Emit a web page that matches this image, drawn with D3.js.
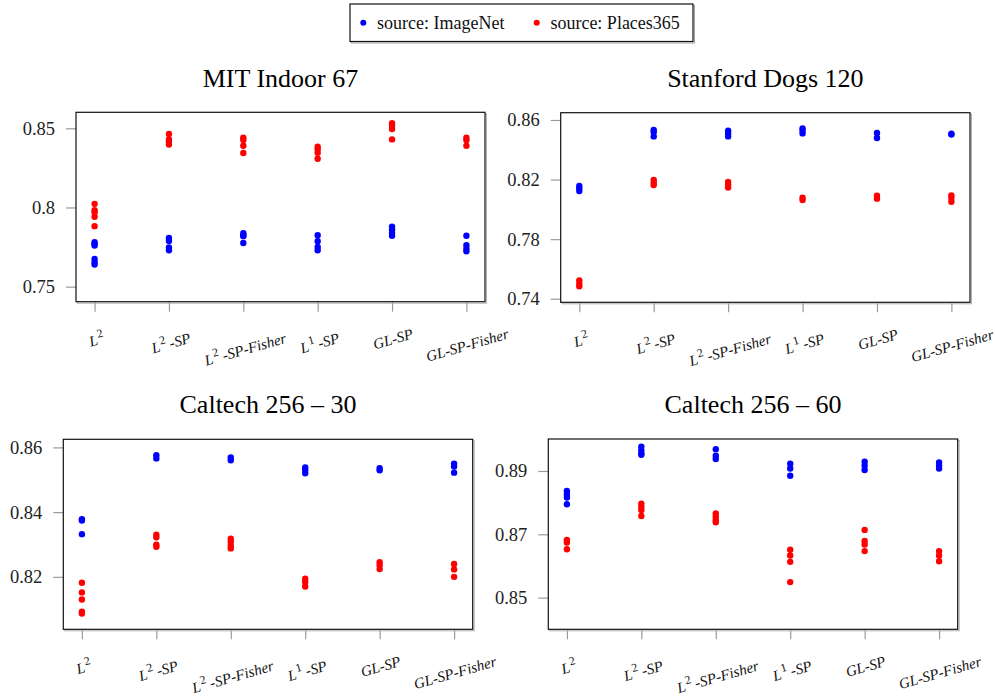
<!DOCTYPE html>
<html>
<head>
<meta charset="utf-8">
<script src="https://cdn.jsdelivr.net/npm/d3@7/dist/d3.min.js"></script>
<style>
  html, body { margin: 0; padding: 0; background: #fff; }
  svg { display: block; }
  svg text { font-family: "Liberation Serif", "Times New Roman", Times, "DejaVu Serif", serif; }
</style>
</head>
<body>
<svg id="chart" width="995" height="700"></svg>
<script>
// ---------------- data ----------------
const categories = ["L^2", "L^2-SP", "L^2-SP-Fisher", "L^1-SP", "GL-SP", "GL-SP-Fisher"];
const seriesNames = ["source: ImageNet", "source: Places365"];

const titles = ["MIT Indoor 67", "Stanford Dogs 120", "Caltech 256 – 30", "Caltech 256 – 60"];

const mitTicks = [0.75, 0.8, 0.85];
const dogsTicks = [0.74, 0.78, 0.82, 0.86];
const cal30Ticks = [0.82, 0.84, 0.86];
const cal60Ticks = [0.85, 0.87, 0.89];

const mitImageNet = [
  [0.7780, 0.7770, 0.7760, 0.7675, 0.7655, 0.7640],
  [0.7808, 0.7789, 0.7747, 0.7730],
  [0.7837, 0.7825, 0.7819, 0.7776],
  [0.7825, 0.7787, 0.7751, 0.7730],
  [0.7878, 0.7861, 0.7840, 0.7821],
  [0.7821, 0.7762, 0.7740, 0.7724]
];
const mitPlaces = [
  [0.8023, 0.7983, 0.7970, 0.7941, 0.7882],
  [0.8464, 0.8430, 0.8414, 0.8397],
  [0.8441, 0.8426, 0.8390, 0.8344],
  [0.8384, 0.8367, 0.8346, 0.8308],
  [0.8532, 0.8517, 0.8496, 0.8430],
  [0.8441, 0.8426, 0.8390]
];
const dogsImageNet = [
  [0.8157, 0.8141, 0.8123],
  [0.8533, 0.8519, 0.8490],
  [0.8528, 0.8510, 0.8490],
  [0.8544, 0.8528, 0.8510],
  [0.8513, 0.8479],
  [0.8508, 0.8502]
];
const dogsPlaces = [
  [0.7523, 0.7499, 0.7483],
  [0.8197, 0.8179, 0.8163],
  [0.8184, 0.8166, 0.8146],
  [0.8078, 0.8063],
  [0.8092, 0.8072],
  [0.8094, 0.8076, 0.8051]
];
const cal30ImageNet = [
  [0.8378, 0.8374, 0.8332],
  [0.8576, 0.8566],
  [0.8569, 0.8560],
  [0.8538, 0.8530, 0.8520],
  [0.8536, 0.8529],
  [0.8550, 0.8541, 0.8522]
];
const cal30Places = [
  [0.8182, 0.8152, 0.8130, 0.8092, 0.8087],
  [0.8330, 0.8322, 0.8299, 0.8293],
  [0.8318, 0.8308, 0.8296, 0.8288],
  [0.8194, 0.8184, 0.8170],
  [0.8245, 0.8236, 0.8224],
  [0.8240, 0.8223, 0.8200]
];
const cal60ImageNet = [
  [0.8837, 0.8826, 0.8816, 0.8795],
  [0.8977, 0.8966, 0.8956, 0.8951],
  [0.8969, 0.8948, 0.8938],
  [0.8923, 0.8908, 0.8885],
  [0.8929, 0.8917, 0.8903],
  [0.8927, 0.8917, 0.8908]
];
const cal60Places = [
  [0.8682, 0.8674, 0.8653],
  [0.8797, 0.8787, 0.8777, 0.8758],
  [0.8766, 0.8756, 0.8745, 0.8738],
  [0.8651, 0.8633, 0.8613, 0.8549],
  [0.8714, 0.8679, 0.8668, 0.8647],
  [0.8647, 0.8633, 0.8615]
];

// ---------------- layout ----------------
const colors = ["#0000ff", "#ff0000"];
const labelAngle = 16;

const panels = [
  { title: titles[0], box: [76, 112.3, 485, 301.7], domain: [0.7405, 0.8601], ticks: mitTicks, series: [mitImageNet, mitPlaces], titleY: 86.7 },
  { title: titles[1], box: [560.7, 112.7, 970, 302.3], domain: [0.7376, 0.8649], ticks: dogsTicks, series: [dogsImageNet, dogsPlaces], titleY: 86.7 },
  { title: titles[2], box: [63.3, 439.3, 472.7, 629.3], domain: [0.8038, 0.8625], ticks: cal30Ticks, series: [cal30ImageNet, cal30Places], titleY: 413.3 },
  { title: titles[3], box: [548.3, 439, 957.7, 629.3], domain: [0.8400, 0.9001], ticks: cal60Ticks, series: [cal60ImageNet, cal60Places], titleY: 413.3 }
];

const svg = d3.select("#chart");

function renderLabel(textSel, label) {
  // label like "L^2-SP" : L italic, superscript upright digit, rest italic
  const m = label.match(/^L\^(\d)(.*)$/);
  if (m) {
    textSel.append("tspan").attr("font-style", "italic").text("L");
    textSel.append("tspan").attr("font-style", "normal").attr("font-size", "12px").attr("dy", "-6.5").attr("dx", "1").text(m[1]);
    if (m[2]) {
      textSel.append("tspan").attr("font-style", "italic").attr("dy", "6.5").attr("dx", "3").text(m[2]);
    }
  } else {
    textSel.append("tspan").attr("font-style", "italic").text(label);
  }
}

panels.forEach(p => {
  const [x0, y0, x1, y1] = p.box;
  const g = svg.append("g");

  const x = d3.scalePoint().domain(categories).range([x0, x1]).padding(0.25);
  const y = d3.scaleLinear().domain(p.domain).range([y1, y0]);

  // title
  g.append("text")
    .attr("x", (x0 + x1) / 2).attr("y", p.titleY)
    .attr("text-anchor", "middle")
    .attr("font-size", "26px")
    .attr("fill", "#000")
    .text(p.title);

  // y axis
  const yAxis = g.append("g").attr("transform", `translate(${x0},0)`)
    .call(d3.axisLeft(y).tickValues(p.ticks).tickSize(10).tickPadding(11).tickFormat(d3.format("")));
  yAxis.attr("font-family", null);
  yAxis.select(".domain").remove();
  yAxis.selectAll(".tick line").attr("stroke", "#9a9a9a").attr("stroke-width", 1.2);
  yAxis.selectAll(".tick text").attr("font-size", "18.5px").attr("fill", "#222");

  // x axis
  const xAxis = g.append("g").attr("transform", `translate(0,${y1})`)
    .call(d3.axisBottom(x).tickSize(10).tickFormat(""));
  xAxis.attr("font-family", null);
  xAxis.select(".domain").remove();
  xAxis.selectAll(".tick line").attr("stroke", "#9a9a9a").attr("stroke-width", 1.2);
  xAxis.selectAll(".tick").each(function(d) {
    const holder = d3.select(this).append("g");
    const t = holder.append("text")
      .attr("text-anchor", "middle")
      .attr("font-size", "15px")
      .attr("fill", "#111");
    renderLabel(t, d);
    const bb = t.node().getBBox();
    const cx = bb.x + bb.width / 2, cy = bb.y + bb.height / 2;
    const a = labelAngle * Math.PI / 180;
    const rotH = bb.width * Math.sin(a) + bb.height * Math.cos(a);
    t.attr("transform", `rotate(${-labelAngle}) translate(${-cx},${-cy})`);
    holder.attr("transform", `translate(0.5,${24 + rotH / 2})`);
  });

  // frame shadow + frame
  g.append("rect")
    .attr("x", x0 + 1.5).attr("y", y0 + 1.5).attr("width", x1 - x0).attr("height", y1 - y0)
    .attr("fill", "none").attr("stroke", "#b0b0b0").attr("stroke-width", 1);
  g.append("rect")
    .attr("x", x0).attr("y", y0).attr("width", x1 - x0).attr("height", y1 - y0)
    .attr("fill", "#fff").attr("stroke", "#111").attr("stroke-width", 1.2);

  // points
  p.series.forEach((ser, si) => {
    const pts = [];
    ser.forEach((vals, ci) => vals.forEach(v => pts.push({ c: categories[ci], v })));
    g.append("g").selectAll("circle").data(pts).join("circle")
      .attr("cx", d => x(d.c)).attr("cy", d => y(d.v))
      .attr("r", 3.2).attr("fill", colors[si]);
  });
});

// legend
const lg = svg.append("g");
lg.append("rect").attr("x", 351.5).attr("y", 5.5).attr("width", 343).attr("height", 37.5)
  .attr("fill", "none").attr("stroke", "#a0a0a0").attr("stroke-width", 1);
lg.append("rect").attr("x", 350).attr("y", 4).attr("width", 343).attr("height", 37.5)
  .attr("fill", "#fff").attr("stroke", "#111").attr("stroke-width", 1.2);
const legX = [363.3, 536.7];
seriesNames.forEach((name, i) => {
  lg.append("circle").attr("cx", legX[i]).attr("cy", 22.7).attr("r", 3).attr("fill", colors[i]);
  lg.append("text").attr("x", legX[i] + 13.7).attr("y", 28.5)
    .attr("font-size", "18px").attr("fill", "#111")
    .text(name);
});
</script>
</body>
</html>
